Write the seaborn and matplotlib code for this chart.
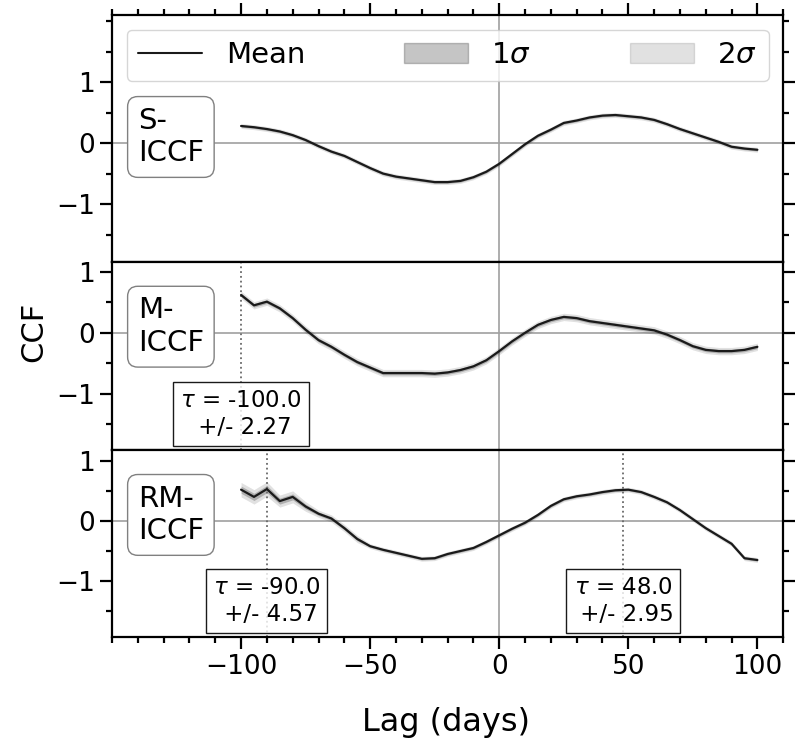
import numpy as np
import pandas as pd
import matplotlib
matplotlib.use("Agg")
import matplotlib.pyplot as plt
import matplotlib.patches as mpatches
from matplotlib.lines import Line2D
from matplotlib.ticker import MultipleLocator
import seaborn as sns

# lag grid (days)
lags = [-100, -95, -90, -85, -80, -75, -70, -65, -60, -55, -50, -45, -40, -35, -30,
        -25, -20, -15, -10, -5, 0, 5, 10, 15, 20, 25, 30, 35, 40, 45, 50, 55, 60,
        65, 70, 75, 80, 85, 90, 95, 100]

# mean CCF of each method
ccf_s = [0.28, 0.26, 0.23, 0.19, 0.13, 0.05, -0.05, -0.14, -0.21, -0.31, -0.41,
         -0.50, -0.55, -0.58, -0.61, -0.64, -0.64, -0.62, -0.56, -0.47, -0.34,
         -0.18, -0.02, 0.12, 0.22, 0.33, 0.37, 0.42, 0.45, 0.46, 0.44, 0.42, 0.38,
         0.31, 0.23, 0.16, 0.09, 0.02, -0.06, -0.09, -0.11]
ccf_m = [0.62, 0.45, 0.51, 0.40, 0.24, 0.05, -0.12, -0.23, -0.36, -0.48, -0.57,
         -0.66, -0.66, -0.66, -0.66, -0.67, -0.65, -0.61, -0.55, -0.45, -0.30,
         -0.14, 0.00, 0.13, 0.21, 0.26, 0.24, 0.19, 0.16, 0.13, 0.10, 0.07, 0.04,
         -0.03, -0.12, -0.22, -0.28, -0.30, -0.30, -0.28, -0.23]
ccf_rm = [0.52, 0.40, 0.53, 0.33, 0.40, 0.24, 0.12, 0.04, -0.12, -0.30, -0.42,
          -0.48, -0.53, -0.58, -0.63, -0.62, -0.55, -0.50, -0.45, -0.35, -0.24,
          -0.13, -0.03, 0.10, 0.25, 0.36, 0.41, 0.44, 0.48, 0.51, 0.52, 0.48, 0.40,
          0.31, 0.18, 0.03, -0.12, -0.25, -0.38, -0.62, -0.65]

# 1-sigma spread of each method
sig_s = [0.02] * 41
sig_m = [0.03] * 41
sig_rm = [0.06, 0.06, 0.06, 0.05, 0.05, 0.04, 0.03, 0.03, 0.03, 0.03, 0.02,
          0.02, 0.02, 0.02, 0.02, 0.02, 0.02, 0.02, 0.02, 0.02, 0.02, 0.02,
          0.02, 0.02, 0.02, 0.02, 0.02, 0.02, 0.02, 0.02, 0.02, 0.02, 0.02,
          0.02, 0.02, 0.02, 0.02, 0.02, 0.02, 0.02, 0.02]

names = ["S-\nICCF", "M-\nICCF", "RM-\nICCF"]
peaks = [[], [(-100.0, 2.27)], [(-90.0, 4.57), (48.0, 2.95)]]
ylims = [(-1.95, 2.1), (-1.92, 1.16), (-1.93, 1.18)]
xticks = [-100, -50, 0, 50, 100]

sns.set_theme(style="ticks")
plt.rcParams.update({
    'font.family': ['DejaVu Sans'],
    'mathtext.fontset': 'dejavusans',
    'text.color': 'black',
    'axes.edgecolor': 'black',
    'axes.labelcolor': 'black',
    'xtick.color': 'black',
    'ytick.color': 'black',
})

fig = plt.figure(figsize=(8, 7.5), dpi=100)
gs = fig.add_gridspec(3, 1, height_ratios=[247, 188, 187], hspace=0,
                      left=0.14, right=0.979, top=0.98, bottom=0.1507)
axes = [fig.add_subplot(gs[i]) for i in range(3)]

series = [(ccf_s, sig_s), (ccf_m, sig_m), (ccf_rm, sig_rm)]
for i, ax in enumerate(axes):
    mean, sig = np.array(series[i][0]), np.array(series[i][1])
    df = pd.DataFrame({"lag": lags, "ccf": mean})

    ax.axhline(0, color="#a0a0a0", lw=1.2, zorder=0)
    ax.axvline(0, color="#a0a0a0", lw=1.2, zorder=0)
    ax.fill_between(lags, mean - 2 * sig, mean + 2 * sig, color="k", alpha=0.13, lw=0)
    ax.fill_between(lags, mean - sig, mean + sig, color="k", alpha=0.25, lw=0)
    sns.lineplot(data=df, x="lag", y="ccf", ax=ax, color="k", lw=1.6, legend=False)

    for tau, err in peaks[i]:
        ax.axvline(tau, color="dimgray", ls=":", lw=1.3, zorder=1)
        ax.text(tau, -1.33, f"$\\tau$ = {tau}\n +/- {err}", fontsize=16.5,
                ha="center", va="center", multialignment="center",
                bbox=dict(boxstyle="square,pad=0.3", fc=(1, 1, 1, 0.8), ec="k", lw=1),
                zorder=5)

    ax.text(-140, 0.1, names[i], fontsize=21, ha="left", va="center",
            bbox=dict(boxstyle="round,pad=0.35", fc="white", ec="gray", lw=1))

    ax.set_xlim(-150, 110)
    ax.set_ylim(*ylims[i])
    ax.set_yticks([-1, 0, 1])
    ax.set_xticks(xticks)
    ax.yaxis.set_minor_locator(MultipleLocator(0.5))
    ax.xaxis.set_minor_locator(MultipleLocator(10))
    ax.set_xlabel("")
    ax.set_ylabel("")
    for sp in ax.spines.values():
        sp.set_linewidth(1.6)
        sp.set_visible(True)
    ax.tick_params(which="both", direction="out", width=1.6, labelsize=19,
                   left=True, right=True, top=(i == 0), bottom=(i == 2),
                   labelbottom=(i == 2), labeltop=False)
    ax.tick_params(which="major", length=8.5)
    ax.tick_params(which="minor", length=4)

handles = [Line2D([0], [0], color="k", lw=1.5),
           mpatches.Patch(facecolor="k", edgecolor="k", alpha=0.25),
           mpatches.Patch(facecolor="k", edgecolor="k", alpha=0.13)]
axes[0].legend(handles, ["Mean", r"1$\sigma$", r"2$\sigma$"], loc="upper center",
               ncol=3, mode="expand", bbox_to_anchor=(0, 0, 1, 1), fontsize=21,
               handlelength=2.2, frameon=True)

fig.text(0.042, 1 - 332 / 750, "CCF", rotation=90, ha="center", va="center", fontsize=22)
fig.text(0.557, 1 - 722 / 750, "Lag (days)", ha="center", va="center", fontsize=23)

fig.savefig("out.png", dpi=100)
